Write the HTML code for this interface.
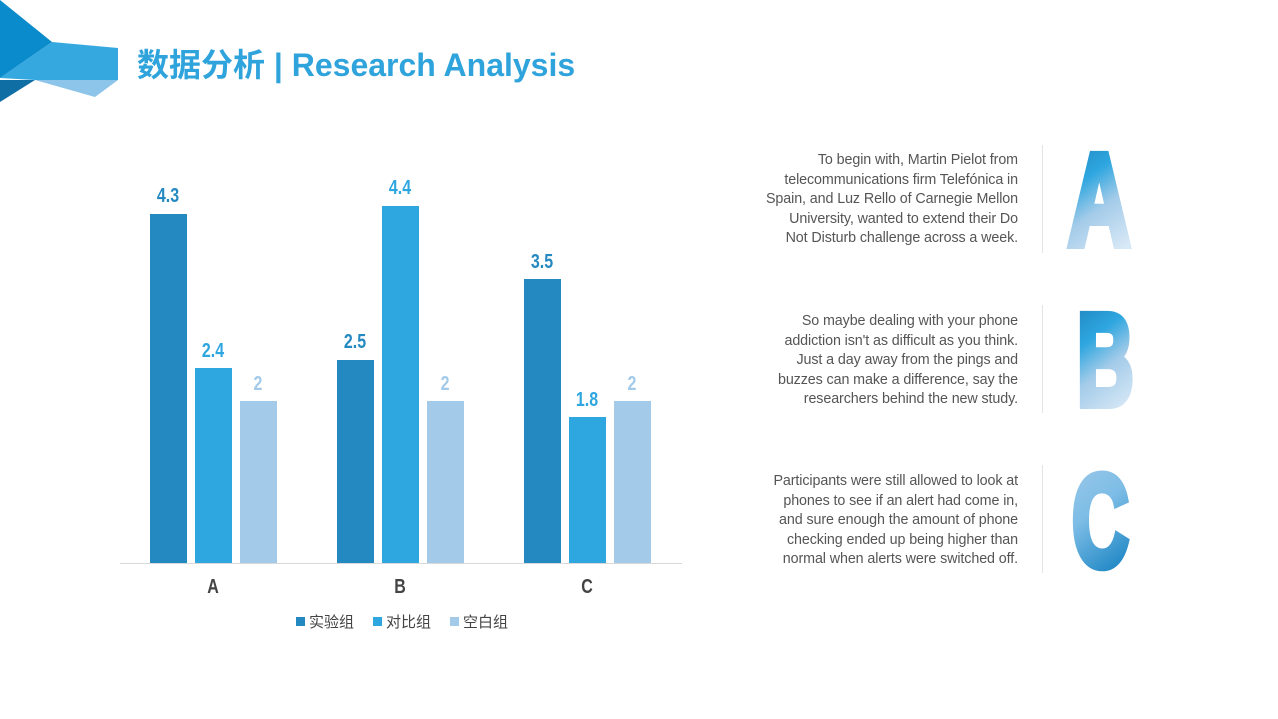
<!DOCTYPE html>
<html><head><meta charset="utf-8"><style>
body{margin:0;width:1278px;height:719px;background:#fff;overflow:hidden;position:relative;font-family:"Liberation Sans","Noto Sans CJK SC",sans-serif}
.t{position:absolute;right:260px;width:320px;text-align:right;font-size:14.3px;line-height:19.5px;color:#555;white-space:nowrap;letter-spacing:-0.1px}
.v{position:absolute;left:1042px;width:1px;background:#e4e4e4}
</style></head><body>
<svg width="1278" height="719" style="position:absolute;left:0;top:0">
<defs>
<linearGradient id="g" x1="0" y1="0" x2="0.3" y2="1">
<stop offset="0" stop-color="#1b7ab6"/><stop offset="0.4" stop-color="#2ea6df"/><stop offset="0.65" stop-color="#a3cbe9"/><stop offset="1" stop-color="#d7e8f6"/></linearGradient>
<linearGradient id="g2" x1="0" y1="0" x2="0.3" y2="1">
<stop offset="0" stop-color="#a3cbe9"/><stop offset="0.5" stop-color="#7dbde6"/><stop offset="1" stop-color="#1d86c4"/></linearGradient>
</defs>
<polygon points="0,0 52,42 0,78" fill="#0a8bcb"/>
<polygon points="0,78 52,42 118,48 118,80 35,80" fill="#35a8e0"/>
<polygon points="0,80 35,80 0,102" fill="#0f6fa5"/>
<polygon points="35,80 118,80 95,97" fill="#8cc4ea"/>
<text x="137" y="76" font-size="32" font-weight="bold" fill="#2fa3dc" font-family="Liberation Sans,Noto Sans CJK SC,sans-serif">数据分析 | Research Analysis</text>
<line x1="120" y1="563.5" x2="682" y2="563.5" stroke="#d9d9d9"/>
<g>
<rect x="150" y="214" width="37" height="349" fill="#2389c0"/>
<rect x="195" y="368" width="37" height="195" fill="#2ea6df"/>
<rect x="240" y="401" width="37" height="162" fill="#a3cbe9"/>
<rect x="337" y="360" width="37" height="203" fill="#2389c0"/>
<rect x="382" y="206" width="37" height="357" fill="#2ea6df"/>
<rect x="427" y="401" width="37" height="162" fill="#a3cbe9"/>
<rect x="524" y="279" width="37" height="284" fill="#2389c0"/>
<rect x="569" y="417" width="37" height="146" fill="#2ea6df"/>
<rect x="614" y="401" width="37" height="162" fill="#a3cbe9"/>
</g>
<g font-size="20" font-weight="bold" text-anchor="middle" font-family="Liberation Sans,sans-serif">
<g transform="scale(0.8,1)">
<text x="210" y="202" fill="#2389c0">4.3</text>
<text x="266.3" y="357" fill="#2ea6df">2.4</text>
<text x="322.5" y="390" fill="#a3cbe9">2</text>
<text x="443.8" y="348" fill="#2389c0">2.5</text>
<text x="500" y="194" fill="#2ea6df">4.4</text>
<text x="556.3" y="390" fill="#a3cbe9">2</text>
<text x="677.5" y="268" fill="#2389c0">3.5</text>
<text x="733.8" y="406" fill="#2ea6df">1.8</text>
<text x="790" y="390" fill="#a3cbe9">2</text>
<text x="266.3" y="593" fill="#444">A</text>
<text x="500" y="593" fill="#444">B</text>
<text x="733.8" y="593" fill="#444">C</text>
</g></g>
<g font-size="15" fill="#444">
<rect x="296" y="617" width="9" height="9" fill="#2389c0"/><text x="309" y="627">实验组</text>
<rect x="373" y="617" width="9" height="9" fill="#2ea6df"/><text x="386" y="627">对比组</text>
<rect x="450" y="617" width="9" height="9" fill="#a3cbe9"/><text x="463" y="627">空白组</text>
</g>
<g font-family="Liberation Sans,sans-serif" font-weight="bold" font-size="131">
<text transform="translate(1068,245) scale(0.66,1)" x="0" y="0" fill="url(#g)" stroke="url(#g)" stroke-width="8">A</text>
<text transform="translate(1077,405) scale(0.6,1)" x="0" y="0" fill="url(#g)" stroke="url(#g)" stroke-width="8">B</text>
<text transform="translate(1072,566) scale(0.6,1)" x="0" y="0" fill="url(#g2)" stroke="url(#g2)" stroke-width="8">C</text>
</g>
</svg>
<div class="v" style="top:145px;height:108px"></div>
<div class="v" style="top:305px;height:108px"></div>
<div class="v" style="top:465px;height:108px"></div>
<div class="t" style="top:151px">To begin with, Martin Pielot from<br>telecommunications firm Telefónica in<br>Spain, and Luz Rello of Carnegie Mellon<br>University, wanted to extend their Do<br>Not Disturb challenge across a week.</div>
<div class="t" style="top:312px">So maybe dealing with your phone<br>addiction isn't as difficult as you think.<br>Just a day away from the pings and<br>buzzes can make a difference, say the<br>researchers behind the new study.</div>
<div class="t" style="top:472px">Participants were still allowed to look at<br>phones to see if an alert had come in,<br>and sure enough the amount of phone<br>checking ended up being higher than<br>normal when alerts were switched off.</div>
</body></html>
